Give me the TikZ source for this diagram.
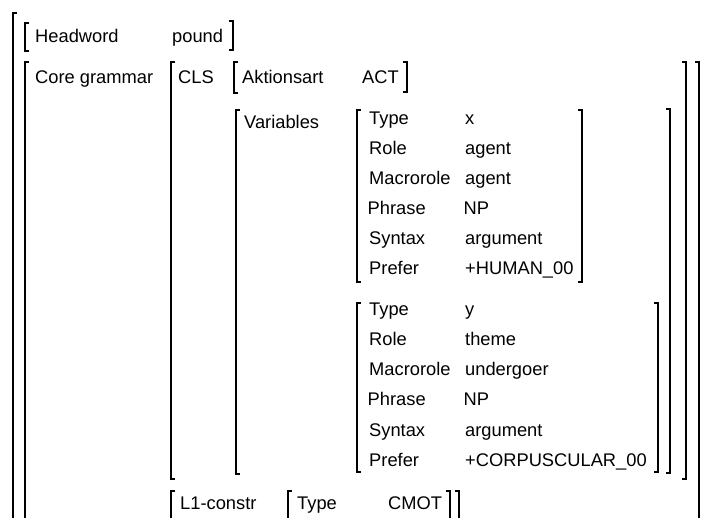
\documentclass[tikz,border=0pt]{standalone}
\usepackage{fontspec}
\setmainfont{Liberation Sans}
\begin{document}
\begin{tikzpicture}[x=1pt,y=-1pt,
  txt/.style={anchor=base west, inner sep=0pt, font=\fontsize{18.3}{20}\selectfont},
  brk/.style={line width=1.1pt, black, line cap=butt}]
\useasboundingbox (0,0) rectangle (704,518);
% left and right square brackets: x, top, bottom
\newcommand\avmL[3]{\draw[brk] (#1+4,#2) -- (#1,#2) -- (#1,#3) -- (#1+4,#3);}
\newcommand\avmR[3]{\draw[brk] (#1-4,#2) -- (#1,#2) -- (#1,#3) -- (#1-4,#3);}
% brackets that continue below the page
\newcommand\avmLopen[2]{\draw[brk] (#1+4,#2) -- (#1,#2) -- (#1,518);}
\newcommand\avmRopen[2]{\draw[brk] (#1-4,#2) -- (#1,#2) -- (#1,518);}

% outermost structure
\avmLopen{13}{13}

% headword
\avmL{25}{23}{51}
\node[txt] (hw) at (35,43) {Headword};
\node[txt] (hwv) at (172,43) {pound};
\avmR{233}{21}{50}

% core grammar
\avmLopen{25}{62}
\node[txt] (cg) at (35,84) {Core grammar};
\avmRopen{699}{62}

% CLS
\avmL{171}{62}{479}
\node[txt] (cls) at (178,84) {CLS};
\avmR{686}{62}{479}

\avmL{234}{62}{93}
\node[txt] (akt) at (242,84) {Aktionsart};
\node[txt] (aktv) at (362,84) {ACT};
\avmR{407}{62}{92}

% variables
\avmL{236}{110}{474}
\node[txt] (var) at (244,129) {Variables};
\avmR{670}{109}{473}

% first variable
\avmL{357}{110}{282}
\node[txt] (ta) at (369,125) {Type};      \node[txt] (tav) at (465,125) {x};
\node[txt] (ra) at (369,155) {Role};      \node[txt] (rav) at (465,155) {agent};
\node[txt] (ma) at (369,185) {Macrorole}; \node[txt] (mav) at (465,185) {agent};
\node[txt] (pa) at (367.5,215) {Phrase};  \node[txt] (pav) at (463.5,215) {NP};
\node[txt] (sa) at (369,245) {Syntax};    \node[txt] (sav) at (465,245) {argument};
\node[txt] (fa) at (369,275) {Prefer};    \node[txt] (fav) at (465,275) {+HUMAN\_00};
\avmR{582}{110}{282}

% second variable
\avmL{357}{303}{472}
\node[txt] (tb) at (369,316) {Type};      \node[txt] (tbv) at (465,316) {y};
\node[txt] (rb) at (369,346) {Role};      \node[txt] (rbv) at (465,346) {theme};
\node[txt] (mb) at (369,376) {Macrorole}; \node[txt] (mbv) at (465,376) {undergoer};
\node[txt] (pb) at (367.5,406) {Phrase};  \node[txt] (pbv) at (463.5,406) {NP};
\node[txt] (sb) at (369,436) {Syntax};    \node[txt] (sbv) at (465,436) {argument};
\node[txt] (fb) at (369,466) {Prefer};    \node[txt] (fbv) at (465,466) {+CORPUSCULAR\_00};
\avmR{658}{303}{472}

% L1 construction
\avmLopen{171}{491}
\node[txt] (l1) at (180,509) {L1-constr};
\avmLopen{288}{491}
\node[txt] (l1t) at (297,509) {Type};
\node[txt] (l1v) at (388,509) {CMOT};
\draw[brk] (446,491) -- (450,491) -- (450,518);
\draw[brk] (455,491) -- (459,491) -- (459,518);
\end{tikzpicture}
\end{document}
